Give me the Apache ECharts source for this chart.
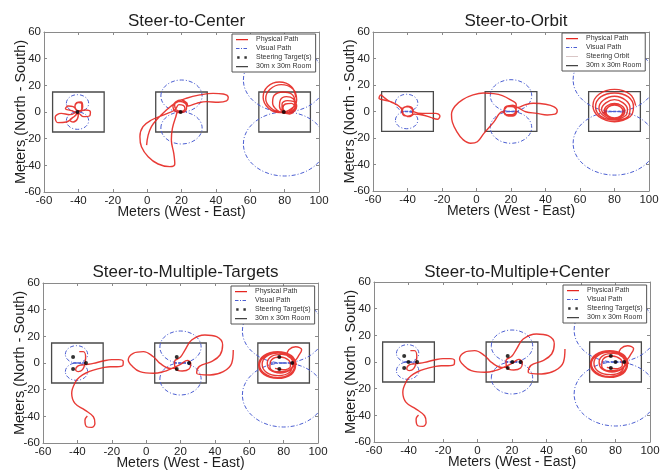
<!DOCTYPE html>
<html><head><meta charset="utf-8">
<script src="https://cdn.jsdelivr.net/npm/echarts@6/dist/echarts.min.js"></script>
<style>html,body{margin:0;padding:0;background:#fff}#c{width:668px;height:471px}</style>
</head><body><div id="c"></div>
<script>
// ---------- data (meters) ----------
const titles = ['Steer-to-Center', 'Steer-to-Orbit', 'Steer-to-Multiple-Targets', 'Steer-to-Multiple+Center'];
const xTicks = [-60, -40, -20, 0, 20, 40, 60, 80, 100];
const yTicks = [-60, -40, -20, 0, 20, 40, 60];
const roomCenters = [[-40, 0, 30], [20, 0, 30], [80, 0, 30]];           // [cx, cy, size]
const visualCircles = [[-40.5, 6.5, 6.5], [-40.5, -6.5, 6.5], [20, 12, 12], [20, -12, 12], [80, 24, 24], [80, -24, 24]]; // [cx, cy, r]
const orbitBars = [[-44, -37, 0], [15, 25, 0], [74, 87, 0]];          // [x1, x2, y]
const multiBars = [[-42.5, -35, 0], [16, 25.5, 0], [72, 85.5, 0]];
const centerTargets = [[-40.5, 0], [19.5, 0], [79.5, 0]];
const multiTargets = [[-42.5, 4.5], [-42.5, -4.5], [-35, 0], [17.8, 4.5], [17.8, -4.5], [25, 0], [77.5, 4.5], [77.5, -4.5], [85, 0]];
const multiCenterTargets = [[-42.5, 4.5], [-42.5, -4.5], [-40, 0], [-35, 0], [17.5, 4.5], [17.5, -4.5], [20.2, 0], [25, 0], [77.3, 4.5], [77.3, -4.5], [80, 0], [85, 0]];

const centerLeft = [[-41,0],[-45,-2],[-50,-1],[-53.5,-4],[-52,-8],[-47,-7.5],[-43,-4],[-41,-1],[-44,1],[-47.5,2.5],[-46,4.5],[-43,4],[-41,1],[-42,4],[-41,7],[-38.5,7.5],[-37.5,4],[-39,1],[-41,1.5],[-42,4.5],[-40,7],[-38,6],[-38,2],[-40,0],[-36,1.5],[-33,0],[-33.5,-3],[-37,-3.5],[-40,-1],[-42,-3],[-45,-6],[-43,-7.5],[-40.5,-5],[-40,-1]];
const centerMid = [[-0.3,-24.8],[0.6,-17.3],[2.5,-11],[5.4,-6],[10.3,0.3],[16.1,6.5],[22.9,10.3],[30.7,12.8],[38.4,14],[44.3,13.5],[47.2,10.8],[46.2,8.3],[41.4,7.3],[34.6,7.8],[28.8,6.5],[23.9,4.5],[23,7],[20,9],[16.5,7.5],[15,4],[16.5,0.5],[19.5,-0.5],[22.5,1],[23,4.5],[21,7.5],[18,8],[16,5],[17,1.5],[20,0.5],[22,2.5],[21,5],[18.5,5.5],[16.1,1.5],[9.3,-2.3],[2.5,-6],[-2.4,-11],[-4.2,-18.5],[-3.3,-26],[0.6,-33.5],[6.4,-39],[13.2,-41],[16.1,-39],[15.5,-31],[14.1,-21],[14.7,-12.3],[16.7,-3.5],[18,0.3],[20,0]];
const centerRight = [[86.5,11],[84,19],[77,22.5],[70,19],[67.5,11],[70.5,3],[77,-0.5],[84,2.5],[87,9],[85,17],[78,20.5],[71.5,17],[69,10],[72,3],[78,0],[84,2],[86,8],[84,13.5],[79,15],[74,12.5],[73,7],[75.5,1.5],[80,-1],[84.5,1],[86.5,5],[85,10],[81,11.5],[77.5,9],[77,4.5],[79,0],[83,-1.5],[86,1],[87,4.5],[85,8],[81.5,8.5],[78.5,6],[78.5,2],[81,-0.5],[84.5,0],[86,3.5],[84,6.5],[80.5,6],[79,3],[80.5,0]];

const orbitLeft = [[-40,-3.8],[-43,-1.5],[-43.5,2],[-46,4.9],[-50,7.4],[-53.5,10.5],[-55.5,12.5],[-56.5,10],[-53,8.5],[-49.7,7.4],[-46,5],[-43,2.4],[-40,4],[-37,2],[-37,-1.5],[-40,-3.5],[-42.8,-2],[-43,1.5],[-40,3.8],[-37.3,2],[-36.2,-0.2],[-31.4,-1.5],[-28.5,-1.4],[-23.7,-1.4],[-21.2,-3.4],[-22.7,-5.9],[-26.6,-4.4],[-31.4,-2.6],[-36,-2],[-38.5,-3.8],[-41.5,-3],[-43,0],[-41.5,3.5],[-38.5,3.5],[-37,0.5]];
const orbitMid = [[17,-2],[15,-0.2],[10,-8],[4.3,-16.5],[0.5,-22.8],[-3.4,-24],[-8,-21],[-11.5,-15],[-14,-8],[-14.5,-2],[-12.5,4],[-8,9],[-2,12.5],[4,14],[10,13.5],[15,12],[19.5,9],[23,5.5],[23,1.5],[20.5,-2.5],[17,-2.5],[16,1],[18,4],[21.5,3.5],[23,0],[21,-3.5],[17.5,-3],[16,0.5],[17.5,4],[21,4.5],[24.6,2.5],[28.5,-0.2],[35,-1.4],[41,-2.6],[45.5,-2],[46.8,0.5],[45,3.5],[40,5.5],[33,6.2],[28,5],[24,3],[21.5,4.5],[17.5,3.5],[16,-0.5],[18.5,-3.5],[22,-3],[23.5,0.5]];
const orbitRight = [[92.3,4.5],[89,13],[80,16.7],[71,13],[67.5,4.5],[71,-4],[80,-7.7],[89,-4],[91,3.5],[88,11],[80,14],[72,11],[69,3.5],[72,-3.5],[80,-6.5],[88,-3.5],[89,2.5],[86.5,8.5],[80,11.5],[73.5,8.5],[71,2.5],[73.5,-3],[80,-6],[86.5,-3],[87.5,1.5],[85,6.5],[80,9],[75,6.5],[72.5,1.5],[75,-3],[80,-5.5],[85,-3],[86,0.5],[84,4.5],[80,6],[76,4.5],[74,0.5],[76,-3.5],[80,-5],[84,-3.5],[85,0],[83.5,3.5],[80,5],[76.5,3.5],[75,0],[76.5,-3.5],[80,-5],[83.5,-3.5],[85,0],[83.5,3.5],[80,4.8],[76.5,3.5],[75,0],[76.5,-3.5],[80,-4.8],[83.5,-3.5],[85,0]];

const multiLeft = [[-38.9,8.5],[-36.6,8.5],[-35.2,4.7],[-35.6,-0.5],[-37,-5],[-39.5,-6.5],[-41,-5],[-40,-2.5],[-37.5,-1.5],[-34,-1],[-30.7,-0.3],[-25,1.5],[-20,2.5],[-16,2.5],[-13.3,1],[-13.6,-2],[-17,-2.8],[-21,-2.8],[-25,-3.5],[-30.7,-5.3],[-35,-7.5],[-38.5,-10.3],[-41,-14],[-43.3,-22.7],[-41.4,-30.3],[-35.6,-35.3],[-30.7,-40.3],[-29.8,-45.3],[-31.7,-48.3],[-34.6,-47.8],[-35.6,-42.8],[-34.2,-39.8]];
const multiMid = [[17.8,-4],[13.9,-4],[8.1,-0.3],[4.2,4.7],[-1.6,8.5],[-7.5,7.3],[-10.4,2.2],[-8,-2.5],[-3.6,-6.5],[4.2,-7.7],[10,-6.5],[15,-4],[20,-1],[24,2],[26,-0.5],[25,-4.5],[21,-6],[17,-4],[16.5,1],[20,4.5],[22.5,9.5],[26.5,17.2],[34.2,21],[41,19.7],[44.5,13.5],[43,6],[38,1],[31,-2.5],[29.4,-7.7],[37.1,-9],[44.9,-6.5],[49.8,-0.2],[50.7,9.7]];
const multiRight = [[87.5,-1.5],[84.5,5.5],[76.5,8.5],[68.5,5.5],[65.5,-1.5],[68.5,-8.5],[76.5,-11.5],[84.5,-8.5],[87,-1],[84,5],[76.5,8],[69,5],[66,-1.5],[69,-8],[76.5,-11],[84,-8],[86.5,-0.5],[83.5,5],[77,7.5],[70,5],[67.5,-1],[70,-7],[77,-9.5],[83.5,-7],[86,0],[88.5,5],[90.5,10],[87,12.2],[83,10],[82,6],[85,3],[86,0],[84,-5],[78,-7.5],[72,-5],[70.5,0],[73,5],[79,6.5],[84,4],[85.5,-1],[82,-6],[76,-6.5],[72,-3],[73,2.5],[78,4.5],[83,2],[84,-2.5],[80,-5],[75,-4]];

// ---------- styling / layout ----------
const FONT = 'Liberation Sans, Arial, sans-serif';
const RED = '#e52620', BLUE = '#4c5fd2', FRAME = '#8a8a8a', TXT = '#1e1e1e';
const grids = [
  {left: 44, top: 32, width: 275, height: 160},
  {left: 373, top: 32, width: 276, height: 159},
  {left: 43, top: 283, width: 275, height: 160},
  {left: 374, top: 282, width: 276, height: 160}
];
const legendPos = [[232, 34], [562, 33], [231, 286], [563, 285]];
const redPaths = [[centerLeft, centerMid, centerRight], [orbitLeft, orbitMid, orbitRight], [multiLeft, multiMid, multiRight], [multiLeft, multiMid, multiRight]];
const targetsPerPlot = [centerTargets, null, multiTargets, multiCenterTargets];
const barsPerPlot = [null, orbitBars, multiBars, multiBars];

const ICON_LINE = 'path://M0,0h.05v.05h-.05z M0,2.4h12v1.3h-12z M11.95,5.95h.05v.05h-.05z';
const ICON_THIN = 'path://M0,0h.05v.05h-.05z M0,2.7h12v.7h-12z M11.95,5.95h.05v.05h-.05z';
const ICON_DASH = 'path://M0,0h.05v.05h-.05z M0,2.5h3.5v1h-3.5z M5,2.5h1v1h-1z M7.5,2.5h3.5v1h-3.5z M11.95,5.95h.05v.05h-.05z';
const ICON_DOTS = 'path://M0,0h.05v.05h-.05z M1.2,1.8h2.4v2.4h-2.4z M8.4,1.8h2.4v2.4h-2.4z M11.95,5.95h.05v.05h-.05z';

const xAxis = [], yAxis = [], series = [], legend = [], title = [];
grids.forEach((g, gi) => {
  const common = {gridIndex: gi, type: 'value', splitLine: {show: false},
    axisLine: {show: true, onZero: false, lineStyle: {color: FRAME, width: 1}},
    axisTick: {show: true, inside: true, length: 3, lineStyle: {color: FRAME}}};
  xAxis.push(Object.assign({}, common, {position: 'bottom', min: xTicks[0], max: xTicks[xTicks.length - 1], interval: 20,
    axisLabel: {fontSize: 11.5, color: TXT, margin: 3, fontFamily: FONT},
    name: 'Meters (West - East)', nameLocation: 'middle', nameGap: 13, nameMoveOverlap: false,
    nameTextStyle: {fontSize: 14, color: TXT, fontFamily: FONT}}));
  xAxis.push(Object.assign({}, common, {position: 'top', min: xTicks[0], max: xTicks[xTicks.length - 1], interval: 20, axisLabel: {show: false}}));
  yAxis.push(Object.assign({}, common, {position: 'left', min: yTicks[0], max: yTicks[yTicks.length - 1], interval: 20,
    axisLabel: {fontSize: 11.5, color: TXT, margin: 3, fontFamily: FONT},
    name: 'Meters (North - South)', nameLocation: 'middle', nameGap: 16, nameRotate: 90, nameMoveOverlap: false,
    nameTextStyle: {fontSize: 14.5, color: TXT, fontFamily: FONT}}));
  yAxis.push(Object.assign({}, common, {position: 'right', min: yTicks[0], max: yTicks[yTicks.length - 1], interval: 20, axisLabel: {show: false}}));

  const ax = {xAxisIndex: 2 * gi, yAxisIndex: 2 * gi};
  title.push({text: titles[gi], left: g.left + g.width / 2, top: gi < 2 ? 8 : 259, textAlign: 'center',
    textStyle: {fontSize: 17, fontWeight: 'normal', color: TXT, fontFamily: FONT}});

  // rooms
  series.push(Object.assign({type: 'custom', name: '30m x 30m Room', data: roomCenters, z: 2,
    itemStyle: {color: '#444'},
    renderItem: (p, api) => {
      const h = api.value(2) / 2;
      const a = api.coord([api.value(0) - h, api.value(1) + h]);
      const b = api.coord([api.value(0) + h, api.value(1) - h]);
      return {type: 'rect', shape: {x: a[0], y: a[1], width: b[0] - a[0], height: b[1] - a[1]},
        style: {fill: 'none', stroke: '#4a4a4a', lineWidth: 1.3}};
    }}, ax));
  // visual path circles
  series.push(Object.assign({type: 'custom', name: 'Visual Path', data: visualCircles, clip: true, z: 2,
    itemStyle: {color: BLUE},
    renderItem: (p, api) => {
      const c = api.coord([api.value(0), api.value(1)]);
      const s = api.size([api.value(2), api.value(2)]);
      return {type: 'ellipse', shape: {cx: c[0], cy: c[1], rx: s[0], ry: s[1]},
        style: {fill: 'none', stroke: BLUE, lineWidth: 1, lineDash: [4, 2, 1, 2]}};
    }}, ax));
  if (barsPerPlot[gi]) {
    series.push(Object.assign({type: 'custom', name: 'Visual Path', data: barsPerPlot[gi], z: 2,
      itemStyle: {color: BLUE},
      renderItem: (p, api) => {
        const a = api.coord([api.value(0), api.value(2)]);
        const b = api.coord([api.value(1), api.value(2)]);
        return {type: 'line', shape: {x1: a[0], y1: a[1], x2: b[0], y2: b[1]},
          style: {stroke: BLUE, lineWidth: 1.3, lineDash: [3, 1.5]}};
      }}, ax));
  }
  redPaths[gi].forEach(d => {
    series.push(Object.assign({type: 'line', name: 'Physical Path', data: d, smooth: 0.4, showSymbol: false, symbol: 'none',
      color: RED, lineStyle: {color: RED, width: 1.4, opacity: 0.9}, z: 3}, ax));
  });
  if (targetsPerPlot[gi]) {
    series.push(Object.assign({type: 'scatter', name: 'Steering Target(s)', data: targetsPerPlot[gi], symbolSize: 4,
      itemStyle: {color: '#000'}, z: 5}, ax));
  } else {
    series.push(Object.assign({type: 'line', name: 'Steering Orbit', data: [], color: '#cdb4b4', showSymbol: false}, ax));
  }

  const items = [
    {name: 'Physical Path', icon: ICON_LINE},
    {name: 'Visual Path', icon: ICON_DASH},
    gi === 1 ? {name: 'Steering Orbit', icon: ICON_THIN} : {name: 'Steering Target(s)', icon: ICON_DOTS},
    {name: '30m x 30m Room', icon: ICON_LINE}
  ];
  legend.push({left: legendPos[gi][0], top: legendPos[gi][1], orient: 'vertical', selectedMode: false,
    itemWidth: 12, itemHeight: 6, itemGap: 2, padding: [2, 4, 2, 4],
    borderColor: '#555', borderWidth: 1, borderRadius: 0, backgroundColor: '#fff',
    itemStyle: {borderWidth: 0},
    textStyle: {fontSize: 7, color: '#333', fontFamily: FONT, padding: [0, 0, 0, 3]},
    data: items});
});

const chart = echarts.init(document.getElementById('c'), null, {renderer: 'canvas'});
chart.setOption({
  animation: false,
  backgroundColor: '#fff',
  title, legend,
  grid: grids.map(g => Object.assign({containLabel: false}, g)),
  xAxis, yAxis, series
});
</script></body></html>
